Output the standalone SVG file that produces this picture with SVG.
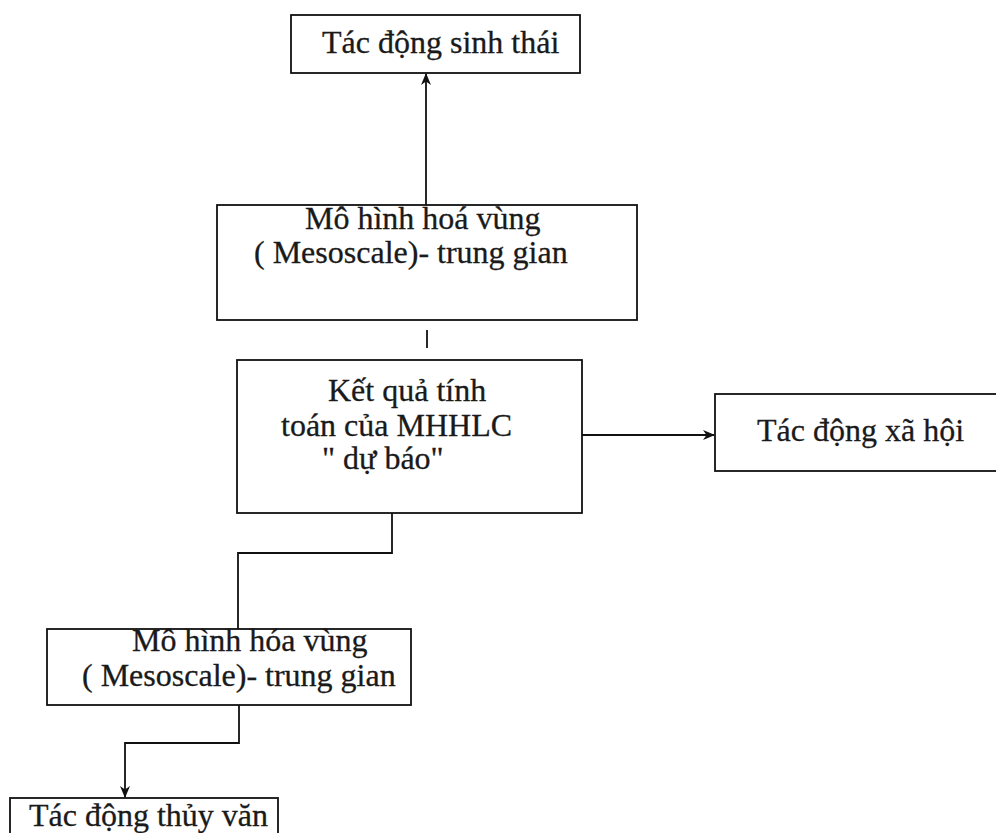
<svg xmlns="http://www.w3.org/2000/svg" width="996" height="833" viewBox="0 0 996 833">
<style>
  .box { fill: #ffffff; stroke: #111111; stroke-width: 1.8; }
  .lbl { font-family: "Liberation Serif", "Times New Roman", serif; font-size: 32px; fill: #1a1a1a; stroke: #1a1a1a; stroke-width: 0.3; }
  .conn { fill: none; stroke: #111111; stroke-width: 1.8; }
</style>
<defs>
  <marker id="arr" viewBox="0 0 12 10" refX="11" refY="5" markerWidth="12" markerHeight="10" markerUnits="userSpaceOnUse" orient="auto">
    <path d="M0,0 L12,5 L0,10 L3.5,5 Z" fill="#111111"/>
  </marker>
</defs>
<rect width="996" height="833" fill="#ffffff"/>

<g id="connectors">
  <line class="conn" x1="426" y1="205" x2="426" y2="74" marker-end="url(#arr)"/>
  <line class="conn" x1="427" y1="330" x2="427" y2="348"/>
  <line class="conn" x1="582" y1="435" x2="714" y2="435" marker-end="url(#arr)"/>
  <polyline class="conn" points="392,513 392,553 238,553 238,629"/>
  <polyline class="conn" points="239,705 239,743 125,743 125,797" marker-end="url(#arr)"/>
</g>

<g id="node-sinh-thai">
  <rect class="box" x="291" y="15" width="289" height="58"/>
  <text class="lbl" x="322" y="53">Tác động sinh thái</text>
</g>

<g id="node-mesoscale-1">
  <rect class="box" x="217" y="205" width="420" height="115"/>
  <text class="lbl" x="305" y="229">Mô hình hoá vùng</text>
  <text class="lbl" x="254" y="263">( Mesoscale)- trung gian</text>
</g>

<g id="node-ket-qua">
  <rect class="box" x="237" y="360" width="345" height="153"/>
  <text class="lbl" x="328" y="401">Kết quả tính</text>
  <text class="lbl" x="281" y="436">toán của MHHLC</text>
  <text class="lbl" x="322" y="469">" dự báo"</text>
</g>

<g id="node-xa-hoi">
  <rect class="box" x="715" y="394" width="290" height="77"/>
  <text class="lbl" x="757" y="441">Tác động xã hội</text>
</g>

<g id="node-mesoscale-2">
  <rect class="box" x="47" y="629" width="364" height="76"/>
  <text class="lbl" x="132" y="651">Mô hình hóa vùng</text>
  <text class="lbl" x="82" y="686">( Mesoscale)- trung gian</text>
</g>

<g id="node-thuy-van">
  <rect class="box" x="10" y="798" width="268" height="45"/>
  <text class="lbl" x="29" y="826">Tác động thủy văn</text>
</g>
</svg>
